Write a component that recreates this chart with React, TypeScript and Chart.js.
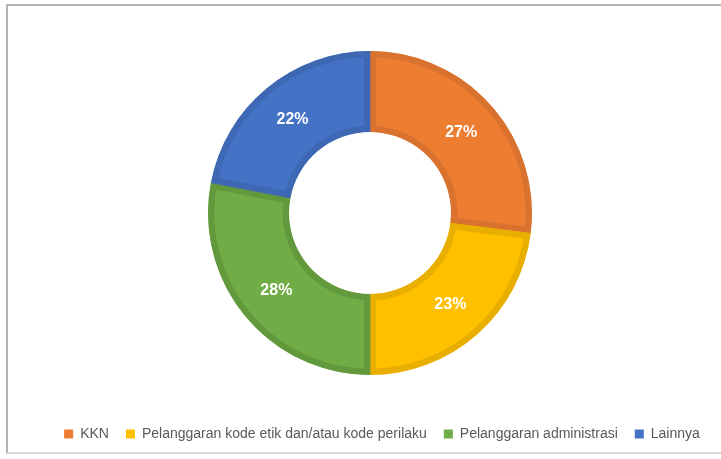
import React, { useEffect, useRef } from "react";
import { Chart, registerables } from "chart.js";

Chart.register(...registerables);

const categories = [
  "KKN",
  "Pelanggaran kode etik dan/atau kode perilaku",
  "Pelanggaran administrasi",
  "Lainnya",
];
const values = [27, 23, 28, 22];
const fillColors = ["#ED7D31", "#FFC000", "#70AD47", "#4472C4"];
const borderColors = ["#D9722F", "#E8AE00", "#63993D", "#3E68B3"];

const labelPlugin = {
  id: "sliceLabels",
  afterLayout(chart: any) {
    if (chart.legend) {
      chart.legend.left += 24;
    }
  },
  afterDatasetsDraw(chart: any) {
    const ctx = chart.ctx;
    const meta = chart.getDatasetMeta(0);
    const data = chart.data.datasets[0].data as number[];
    const total = data.reduce((a: number, b: number) => a + b, 0);
    ctx.save();
    ctx.fillStyle = "#FFFFFF";
    ctx.font = "bold 16px 'Liberation Sans', Arial, sans-serif";
    ctx.textAlign = "center";
    ctx.textBaseline = "middle";
    meta.data.forEach((arc: any, i: number) => {
      const p = arc.getCenterPoint();
      const pct = Math.round((data[i] / total) * 100);
      ctx.fillText(pct + "%", p.x, p.y);
    });
    ctx.restore();
  },
};

export default function App() {
  const ref = useRef<HTMLCanvasElement | null>(null);
  useEffect(() => {
    if (!ref.current) return;
    const chart = new Chart(ref.current, {
      type: "doughnut",
      data: {
        labels: categories,
        datasets: [
          {
            data: values,
            backgroundColor: fillColors,
            borderColor: borderColors,
            borderWidth: 6,
            borderAlign: "inner",
            radius: 162,
          } as any,
        ],
      },
      options: {
        responsive: false,
        maintainAspectRatio: false,
        animation: false,
        cutout: "50%",
        layout: { padding: { left: 19, right: 0, top: 16, bottom: 8 } },
        plugins: {
          tooltip: { enabled: false },
          legend: {
            position: "bottom",
            labels: {
              boxWidth: 9,
              boxHeight: 9,
              padding: 17,
              color: "#595959",
              font: { family: "'Liberation Sans', Arial, sans-serif", size: 14 },
              generateLabels: () =>
                categories.map((c, i) => ({
                  text: c,
                  fillStyle: fillColors[i],
                  strokeStyle: fillColors[i],
                  lineWidth: 0,
                  hidden: false,
                  index: i,
                  fontColor: "#595959",
                })),
            },
          },
        },
      },
      plugins: [labelPlugin],
    });
    return () => chart.destroy();
  }, []);

  return (
    <div
      style={{
        position: "fixed",
        left: 0,
        top: 0,
        width: 721,
        height: 459,
        overflow: "hidden",
        background: "#ffffff",
      }}
    >
      <div
        style={{
          position: "absolute",
          left: 6,
          top: 4,
          width: 800,
          height: 450,
          borderTop: "2px solid #b4b4b4",
          borderLeft: "2px solid #b4b4b4",
          borderBottom: "2px solid #d9d9d9",
          boxSizing: "border-box",
        }}
      />
      <canvas
        ref={ref}
        width={721}
        height={459}
        style={{ position: "absolute", left: 0, top: 0, width: 721, height: 459 }}
      />
    </div>
  );
}
